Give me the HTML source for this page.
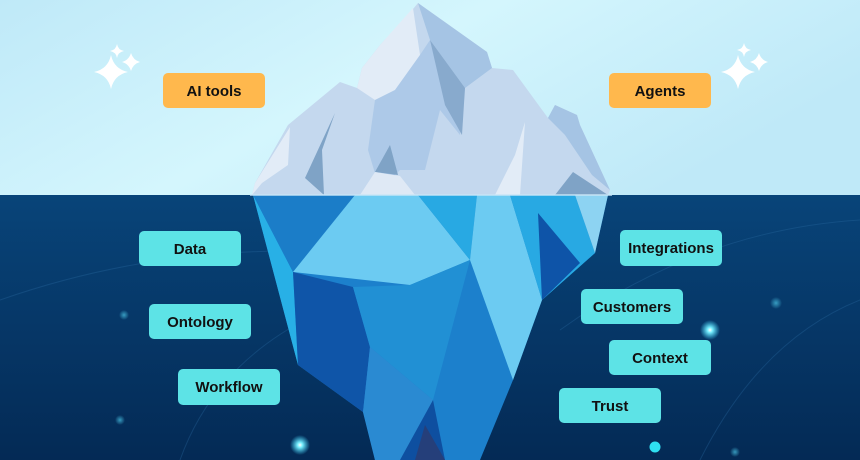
<!DOCTYPE html>
<html><head><meta charset="utf-8"><style>
html,body{margin:0;padding:0;width:860px;height:460px;overflow:hidden;}
svg{display:block}
text{font-family:"Liberation Sans",sans-serif;font-weight:bold;font-size:15px;fill:#111;}
</style></head><body>
<svg width="860" height="460" viewBox="0 0 860 460" xmlns="http://www.w3.org/2000/svg">
<defs>
<linearGradient id="sky" x1="0" y1="0" x2="1" y2="0.4">
<stop offset="0" stop-color="#bfe9f8"/><stop offset="0.5" stop-color="#d4f6fd"/><stop offset="1" stop-color="#bfe9f8"/></linearGradient>
<linearGradient id="sea" x1="0" y1="0" x2="0" y2="1">
<stop offset="0" stop-color="#084479"/><stop offset="1" stop-color="#042a55"/></linearGradient>
<radialGradient id="glow"><stop offset="0" stop-color="#ffffff"/><stop offset="0.25" stop-color="#7af0ff"/><stop offset="1" stop-color="#3fd8ff" stop-opacity="0"/></radialGradient>
<radialGradient id="glow2"><stop offset="0" stop-color="#4cc8e8" stop-opacity="0.7"/><stop offset="1" stop-color="#4cc8e8" stop-opacity="0"/></radialGradient>
</defs>
<rect width="860" height="195" fill="url(#sky)"/>
<rect y="195" width="860" height="265" fill="url(#sea)"/>
<g fill="none" stroke="#2a6aa0" stroke-opacity="0.35" stroke-width="1">
<path d="M0 300 Q200 230 420 260"/>
<path d="M180 460 Q230 320 420 280"/>
<path d="M560 330 Q700 230 860 220"/>
<path d="M700 460 Q760 340 860 300"/>
</g>
<g fill="#fff">
<path d="M111 55 Q114 69 128 72 Q114 75 111 89 Q108 75 94 72 Q108 69 111 55Z"/>
<path d="M117 44 Q118 50 124 51 Q118 52 117 58 Q116 52 110 51 Q116 50 117 44Z"/>
<path d="M131 53 Q133 60 140 62 Q133 64 131 71 Q129 64 122 62 Q129 60 131 53Z"/>
<path d="M738 55 Q741 69 755 72 Q741 75 738 89 Q735 75 721 72 Q735 69 738 55Z"/>
<path d="M744 43 Q745 49 751 50 Q745 51 744 57 Q743 51 737 50 Q743 49 744 43Z"/>
<path d="M759 53 Q761 60 768 62 Q761 64 759 71 Q757 64 750 62 Q757 60 759 53Z"/>
</g>
<polygon points="252,195 255,183 288,125 340,82 357,88 362,68 380,45 408,15 418,3 487,52 492,68 513,70 548,118 555,105 577,115 580,125 610,190 608,195" fill="#c4d8ee"/>
<polygon points="252,195 255,183 290,127 288,165 262,183" fill="#e2ecf7"/>
<polygon points="357,88 362,68 380,45 413,8 420,55 395,90 375,100" fill="#e2ecf7"/>
<polygon points="418,3 487,52 492,68 465,88 430,40" fill="#a5c4e4"/>
<polygon points="375,100 395,90 420,55 430,40 465,88 460,135 440,110 425,170 400,170 380,190 368,150" fill="#a8c6e6" opacity="0.8"/>
<polygon points="430,40 465,88 462,135 445,105" fill="#88aacd"/>
<polygon points="335,113 305,178 324,195 322,150" fill="#7fa3c6"/>
<polygon points="390,145 398,175 375,172" fill="#7fa3c6"/>
<polygon points="360,195 375,172 400,176 415,195" fill="#dfe9f5"/>
<polygon points="515,155 525,122 520,195 495,195" fill="#e2ecf7"/>
<polygon points="548,118 555,105 577,115 580,125 610,190 592,175 565,135" fill="#a5c4e4"/>
<polygon points="555,195 573,172 608,195" fill="#7fa3c6"/>
<polygon points="253,195 608,195 595,253 542,300 513,380 480,460 375,460 363,412 298,365" fill="#1c80cc"/>
<polygon points="253,195 293,272 298,365" fill="#28b0e6"/>
<polygon points="253,195 355,195 293,272" fill="#1b7dc8"/>
<polygon points="355,195 418,195 470,260 410,285 293,272" fill="#6ccbf2"/>
<polygon points="418,195 477,195 470,260" fill="#28a9e3"/>
<polygon points="477,195 510,195 542,300 513,380 470,260" fill="#6ccbf2"/>
<polygon points="510,195 575,195 595,253 542,300" fill="#28a9e3"/>
<polygon points="538,213 580,263 542,300" fill="#0e54a8"/>
<polygon points="575,195 608,195 595,253" fill="#8dd3f2"/>
<polygon points="293,272 353,287 370,347 363,412 298,365" fill="#0f55a8"/>
<polygon points="353,287 410,285 470,260 433,400 370,347" fill="#2190d4"/>
<polygon points="370,347 433,400 420,460 375,460 363,412" fill="#2a8ad2"/>
<polygon points="433,400 400,460 445,460" fill="#0e4fa0"/>
<polygon points="425,425 445,460 415,460" fill="#253f7a"/>
<rect x="250" y="194" width="362" height="2" fill="#c9e6f6" opacity="0.7"/>
<circle cx="300" cy="445" r="10" fill="url(#glow)"/>
<circle cx="710" cy="330" r="10" fill="url(#glow)"/>
<circle cx="776" cy="303" r="6" fill="url(#glow2)"/>
<circle cx="124" cy="315" r="5" fill="url(#glow2)"/>
<circle cx="120" cy="420" r="5" fill="url(#glow2)"/>
<circle cx="735" cy="452" r="5" fill="url(#glow2)"/>
<circle cx="655" cy="447" r="5.5" fill="#2fe0f2"/>
<g fill="#ffb84d">
<rect x="163" y="73" width="102" height="35" rx="5"/>
<rect x="609" y="73" width="102" height="35" rx="5"/>
</g>
<g fill="#5de3e6">
<rect x="139" y="231" width="102" height="35" rx="5"/>
<rect x="149" y="304" width="102" height="35" rx="5"/>
<rect x="178" y="369" width="102" height="36" rx="5"/>
<rect x="620" y="230" width="102" height="36" rx="5"/>
<rect x="581" y="289" width="102" height="35" rx="5"/>
<rect x="609" y="340" width="102" height="35" rx="5"/>
<rect x="559" y="388" width="102" height="35" rx="5"/>
</g>
<g text-anchor="middle">
<text x="214" y="96">AI tools</text>
<text x="660" y="96">Agents</text>
<text x="190" y="254">Data</text>
<text x="200" y="327">Ontology</text>
<text x="229" y="392">Workflow</text>
<text x="671" y="253">Integrations</text>
<text x="632" y="312">Customers</text>
<text x="660" y="363">Context</text>
<text x="610" y="411">Trust</text>
</g>
</svg>
</body></html>
